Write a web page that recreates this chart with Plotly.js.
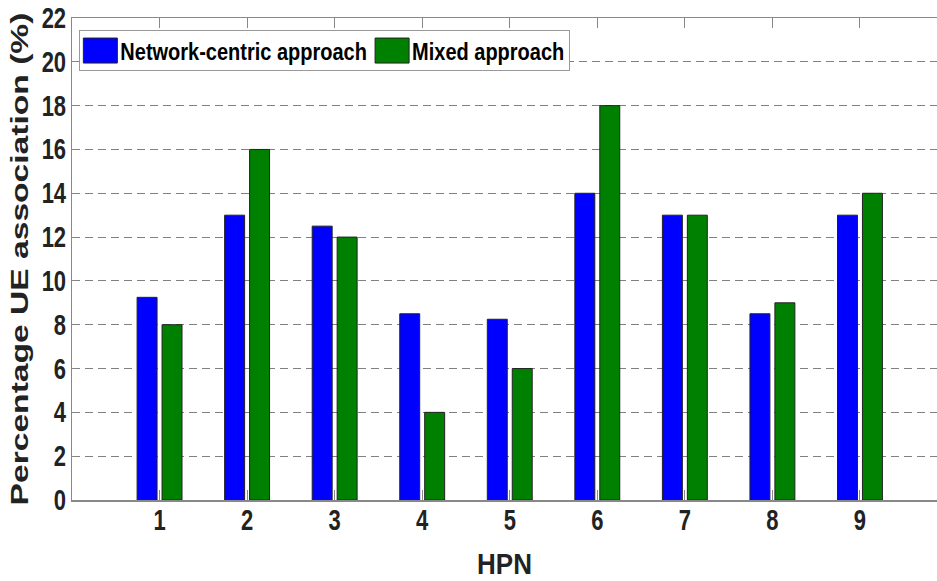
<!DOCTYPE html>
<html>
<head>
<meta charset="utf-8">
<script src="https://cdn.plot.ly/plotly-3.0.1.min.js"></script>
<style>html,body{margin:0;padding:0;background:#fff;} #chart{width:937px;height:581px;}</style>
</head>
<body>
<div id="chart"></div>
<script>
const hpn = [1, 2, 3, 4, 5, 6, 7, 8, 9];
const tickLabels = ['1', '2', '3', '4', '5', '6', '7', '8', '9'];
const networkCentric = [9.25, 13, 12.5, 8.5, 8.25, 14, 13, 8.5, 13];
const mixed = [8, 16, 12, 4, 6, 18, 13, 9, 14];
const yTicks = [0, 2, 4, 6, 8, 10, 12, 14, 16, 18, 20, 22];

const fam = "'Liberation Sans', Arial, sans-serif";

const traces = [
  {type: 'bar', name: 'Network-centric approach', x: hpn, y: networkCentric,
   marker: {color: '#0000FF', line: {color: '#222', width: 1}}},
  {type: 'bar', name: 'Mixed approach', x: hpn, y: mixed,
   marker: {color: '#008000', line: {color: '#222', width: 1}}}
];

const layout = {
  width: 937, height: 581,
  margin: {l: 72, r: 0, t: 17.5, b: 81, pad: 0},
  paper_bgcolor: '#fff', plot_bgcolor: '#fff',
  barmode: 'group', bargap: 0.43, bargroupgap: 0.2,
  showlegend: true,
  legend: {orientation: 'h', x: 0.0085, y: 0.975, xanchor: 'left', yanchor: 'top',
           bgcolor: '#fff', bordercolor: '#999', borderwidth: 1,
           font: {family: fam, size: 20, color: '#000', weight: 'bold'},
           itemwidth: 30, traceorder: 'normal'},
  xaxis: {range: [0, 9.88], tickvals: hpn, ticktext: tickLabels,
          ticks: 'inside', ticklen: 10, tickcolor: '#888', tickwidth: 1,
          showline: true, linecolor: '#888', linewidth: 1.5, mirror: 'ticks',
          showgrid: false, zeroline: false,
          tickfont: {family: fam, size: 22, color: '#222', weight: 'bold'},
          title: {text: 'HPN', standoff: 22, font: {family: fam, size: 26, color: '#222', weight: 'bold'}}},
  yaxis: {range: [0, 22], tickvals: yTicks,
          ticks: 'inside', ticklen: 5, tickcolor: '#888', tickwidth: 1,
          showline: true, linecolor: '#888', linewidth: 1.5, mirror: false,
          showgrid: true, gridcolor: '#808080', gridwidth: 1, griddash: '8px,5px',
          zeroline: false,
          tickfont: {family: fam, size: 22, color: '#222', weight: 'bold'},
          title: {text: 'Percentage UE association (%)', standoff: 6,
                  font: {family: fam, size: 24, color: '#222', weight: 'bold'}}}
};

function stretch(sel, sx, sy) {
  document.querySelectorAll(sel).forEach(function (el) {
    const b = el.getBBox();
    const cx = b.x + b.width / 2, cy = b.y + b.height / 2;
    const t = el.getAttribute('transform') || '';
    el.setAttribute('transform', t + ' translate(' + cx + ',' + cy + ') scale(' + sx + ',' + sy + ') translate(' + (-cx) + ',' + (-cy) + ')');
  });
}

Plotly.newPlot('chart', traces, layout, {displayModeBar: false, staticPlot: true}).then(function () {
  document.querySelectorAll('.legendpoints path').forEach(function (p) {
    p.setAttribute('d', 'M17,12.5H-17V-12.5H17Z');
  });
  stretch('.xtick text', 1, 1.3);
  stretch('.ytick text', 1, 1.3);
  stretch('.legendtext', 1, 1.22);
  stretch('.xtitle', 1, 1.13);
  stretch('.ytitle', 1.4, 1);
});
</script>
</body>
</html>
